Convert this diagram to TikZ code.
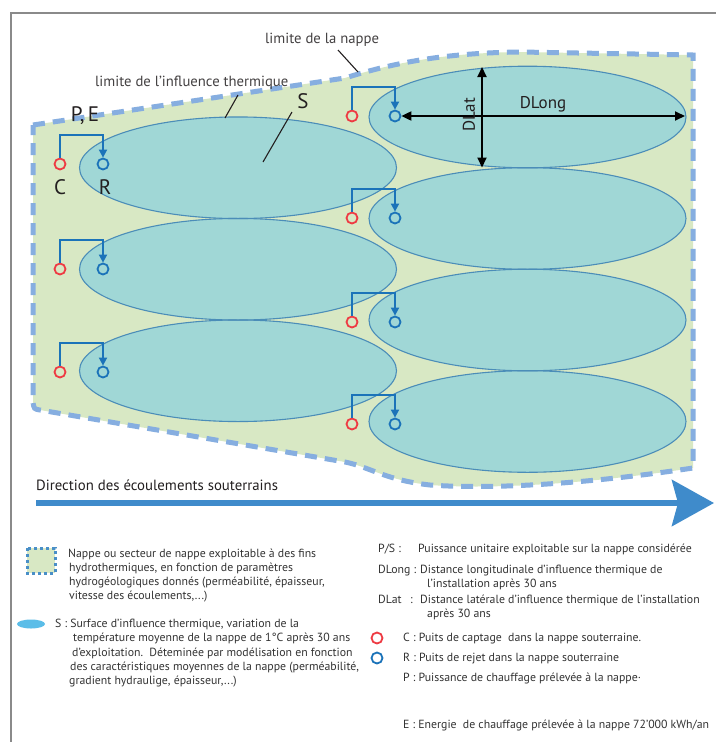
\documentclass[tikz,border=0pt]{standalone}
\usepackage{fontspec}
\setmainfont{PT Sans}
\usetikzlibrary{arrows.meta}
\definecolor{greenfill}{HTML}{D8E8C4}
\definecolor{ellfill}{HTML}{A0D7D6}
\definecolor{elldraw}{HTML}{4B8DB8}
\definecolor{dashblue}{HTML}{86AEE0}
\definecolor{redw}{HTML}{EE3B43}
\definecolor{bluew}{HTML}{1B73B9}
\definecolor{arrowblue}{HTML}{3F8BCB}
\definecolor{txtc}{HTML}{231F20}
\definecolor{legc}{HTML}{333333}
\definecolor{framegray}{HTML}{8A8A8A}
\definecolor{iconblue}{HTML}{5BBDE8}
\tikzset{
  cwell/.style={circle, draw=redw, line width=1.8pt, minimum size=11pt, inner sep=0pt},
  rwell/.style={circle, draw=bluew, line width=1.8pt, minimum size=11pt, inner sep=0pt},
  bracket/.style={draw=bluew, line width=1.8pt, -{Triangle[length=8pt,width=8pt]}},
  dimarrow/.style={draw=black, line width=2pt, {Triangle[length=10pt,width=9pt]}-{Triangle[length=10pt,width=9pt]}},
  bigl/.style={font=\fontsize{21}{24}\selectfont, text=txtc, inner sep=0pt},
  lbl/.style={font=\fontsize{14.7}{17}\selectfont, text=txtc!85, inner sep=0pt, anchor=base west},
  leg/.style={font=\fontsize{11.8}{14}\selectfont, text=legc, inner sep=0pt, anchor=base west},
  leader/.style={draw=txtc, line width=1.1pt},
}
\begin{document}
\begin{tikzpicture}[x=1pt,y=-1pt]
\useasboundingbox (0,0) rectangle (716,742);
\fill[white] (0,0) rectangle (716,742);
% frame
\draw[framegray, line width=1.5pt] (11,742) -- (11,13) -- (716,13);
% nappe area
\path[fill=greenfill] (33,125) -- (345,78) .. controls (390,64) and (440,53) .. (520,52) -- (693,55)
  -- (693,468) .. controls (600,482) and (500,490) .. (430,485) .. controls (385,480) and (370,467) .. (345,462)
  -- (40,410) .. controls (34,409) .. (33,402) -- cycle;
% ellipses
\foreach \cy in {167.75,269.25,370.75} {\fill[ellfill] (238,\cy) ellipse [x radius=158.5pt, y radius=50.8pt];}
\foreach \cy in {117,218.5,320,421.5} {\fill[ellfill] (527.5,\cy) ellipse [x radius=158.5pt, y radius=50.8pt];}
\foreach \cy in {167.75,269.25,370.75} {\draw[elldraw, line width=1.1pt] (238,\cy) ellipse [x radius=158.5pt, y radius=50.8pt];}
\foreach \cy in {117,218.5,320,421.5} {\draw[elldraw, line width=1.1pt] (527.5,\cy) ellipse [x radius=158.5pt, y radius=50.8pt];}
% dashed border
\draw[dashblue, line width=5pt, dash pattern=on 12pt off 8pt] (33,125) -- (345,78) .. controls (390,64) and (440,53) .. (520,52) -- (693,55)
  -- (693,468) .. controls (600,482) and (500,490) .. (430,485) .. controls (385,480) and (370,467) .. (345,462)
  -- (40,410) .. controls (34,409) .. (33,402) -- cycle;
% wells left
\foreach \i/\y in {1/164,2/269,3/372} {
  \node[cwell] (lc\i) at (60,\y) {};
  \node[rwell] (lr\i) at (103,\y) {};
  \draw[bracket] (lc\i.north) -- ++(0,-23) -| (lr\i.north);
}
% wells right
\foreach \i/\y in {1/116,2/218,3/322,4/424} {
  \node[cwell] (rc\i) at (352,\y) {};
  \node[rwell] (rr\i) at (395,\y) {};
  \draw[bracket] (rc\i.north) -- ++(0,-23) -| (rr\i.north);
}
% dimensions
\coordinate (dlongend) at (685,116);
\coordinate (dlattop) at (482,67);
\coordinate (dlatbot) at (482,167.5);
\draw[dimarrow] (rr1.east) -- (dlongend);
\draw[dimarrow] (dlattop) -- (dlatbot);
\node[font=\fontsize{17}{19}\selectfont, text=txtc, inner sep=0pt] (dlong) at (543,104) {DLong};
\node[font=\fontsize{17}{19}\selectfont, text=txtc, inner sep=0pt, rotate=90] (dlat) at (469,115) {DLat};
% labels
\node[bigl] (pe) at (85,116) {P,\,E};
\node[bigl] (cl) at (60,187) {C};
\node[bigl] (rl) at (105,187) {R};
\node[bigl] (sl) at (303,101) {S};
\node[lbl] (lnappe) at (265,43) {limite de la nappe};
\node[lbl] (linfl) at (95,86) {limite de l'influence thermique};
\coordinate (ln1) at (338,50); \coordinate (ln2) at (358,72);
\draw[leader] (ln1) -- (ln2);
\coordinate (li1) at (238,95); \coordinate (li2) at (225,118);
\draw[leader] (li1) -- (li2);
\coordinate (ls1) at (292,112); \coordinate (ls2) at (263,162);
\draw[leader] (ls1) -- (ls2);
% direction arrow
\node[font=\fontsize{14.8}{17}\selectfont, text=txtc, inner sep=0pt, anchor=base west] (dir) at (36,490) {Direction des écoulements souterrains};
\coordinate (arrs) at (36,503);
\coordinate (arre) at (714,503);
\draw[arrowblue, line width=6pt, -{Stealth[length=42pt,width=46pt,inset=6pt]}] (arrs) -- (arre);
% legend left
\fill[greenfill] (27,548) rectangle (55,573);
\draw[bluew!80, line width=3pt, dash pattern=on 3pt off 3pt] (27,548) rectangle (55,573);
\node[leg] (l1) at (68,557) {Nappe ou secteur de nappe exploitable à des fins};
\node[leg] (l2) at (69,571) {hydrothermiques, en fonction de paramètres};
\node[leg] (l3) at (69,585) {hydrogéologiques donnés (perméabilité, épaisseur,};
\node[leg] (l4) at (69,599) {vitesse des écoulements,...)};
\fill[iconblue] (31,624) ellipse [x radius=14pt, y radius=4.5pt];
\node[leg] (s1) at (55,627) {S : Surface d'influence thermique, variation de la};
\node[leg] (s2) at (73,641) {température moyenne de la nappe de 1°C après 30 ans};
\node[leg] (s3) at (72,656) {d'exploitation.\ \ Déteminée par modélisation en fonction};
\node[leg] (s4) at (70,670) {des caractéristiques moyennes de la nappe (perméabilité,};
\node[leg] (s5) at (69,684) {gradient hydraulige, épaisseur,...)};
% legend right
\node[leg] (ps) at (378,552.5) {P/S :};
\node[leg] (pst) at (418,552.5) {Puissance unitaire exploitable sur la nappe considérée};
\node[leg] (dlo) at (378,573.5) {DLong :};
\node[leg] (dlot) at (420,573.5) {Distance longitudinale d’influence thermique de};
\node[leg] (dlot2) at (427,587.5) {l’installation après 30 ans};
\node[leg] (dla) at (378,603.5) {DLat};
\node[leg] (dlac) at (410,603.5) {:};
\node[leg] (dlat1) at (420,603.5) {Distance latérale d’influence thermique de l’installation};
\node[leg] (dlat2) at (427,617.5) {après 30 ans};
\node[cwell] (legc) at (377,638) {};
\node[rwell] (legr) at (377,658) {};
\node[leg] (cc) at (403,641.5) {C : Puits de captage\ \ dans la nappe souterraine.};
\node[leg] (rr) at (403,661.5) {R : Puits de rejet dans la nappe souterraine};
\node[leg] (pp) at (403,681.5) {P : Puissance de chauffage prélevée à la nappe·};
\node[leg] (ee) at (403,728.5) {E : Energie\ \ de chauffage prélevée à la nappe 72’000 kWh/an};
\end{tikzpicture}
\end{document}
